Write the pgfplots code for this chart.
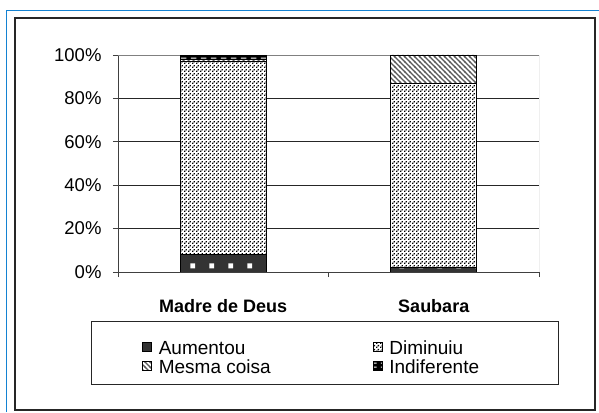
\documentclass[border=0pt]{standalone}
\usepackage{pgfplots}
\pgfplotsset{compat=1.18}
\usepackage{fontspec}
\setmainfont{Liberation Sans}
\usetikzlibrary{patterns}
\pgfdeclarepatternformonly{whitesq}{\pgfqpoint{0pt}{0pt}}{\pgfqpoint{19pt}{19pt}}{\pgfqpoint{19pt}{19pt}}{\pgfpathrectangle{\pgfqpoint{0.5pt}{11pt}}{\pgfqpoint{5pt}{5pt}}\pgfusepath{fill}}
\pgfdeclarepatternformonly{fdots}{\pgfqpoint{0pt}{0pt}}{\pgfqpoint{4pt}{4pt}}{\pgfqpoint{4pt}{4pt}}{\pgfpathrectangle{\pgfqpoint{0pt}{0pt}}{\pgfqpoint{1.6pt}{1.6pt}}\pgfpathrectangle{\pgfqpoint{2pt}{2pt}}{\pgfqpoint{1.6pt}{1.6pt}}\pgfusepath{fill}}
\pgfdeclarepatternformonly{nwl}{\pgfqpoint{-1pt}{-1pt}}{\pgfqpoint{6pt}{6pt}}{\pgfqpoint{5pt}{5pt}}{\pgfsetlinewidth{1.2pt}\pgfpathmoveto{\pgfqpoint{-1pt}{6pt}}\pgfpathlineto{\pgfqpoint{6pt}{-1pt}}\pgfusepath{stroke}}
\pgfdeclarepatternformonly{wdash}{\pgfqpoint{0pt}{0pt}}{\pgfqpoint{10pt}{4pt}}{\pgfqpoint{10pt}{4pt}}{\pgfpathrectangle{\pgfqpoint{1pt}{1.5pt}}{\pgfqpoint{6pt}{1.2pt}}\pgfusepath{fill}}
\definecolor{frameblue}{RGB}{20,130,210}
\begin{document}
\begin{tikzpicture}[x=1pt,y=1pt]
\useasboundingbox (0,0) rectangle (599,412);
\fill[white] (0,0) rectangle (599,412);
\draw[frameblue,line width=1.6pt] (6.5,0) -- (6.5,401.5) -- (599,401.5);
\draw[black!85,line width=1.3pt] (15,394) rectangle (595,2);
\begin{axis}[
  at={(118pt,140pt)}, anchor=south west,
  width=421pt, height=217pt, scale only axis,
  ybar stacked, bar width=86pt,
  xmin=-0.5, xmax=1.5, ymin=0, ymax=100,
  axis x line*=bottom, axis y line*=left,
  axis line style={black!75, line width=0.9pt},
  ytick={0,20,40,60,80,100},
  yticklabel={\pgfmathprintnumber{\tick}\%},
  yticklabel style={xshift=-8pt},
  ymajorgrids, major grid style={black!85, line width=0.8pt},
  tick align=outside, major tick length=5pt,
  tick style={black!75, line width=0.9pt},
  xtick={-0.5,0.5,1.5}, xticklabels={},
  extra x ticks={0,1}, extra x tick labels={Madre de Deus,Saubara},
  extra x tick style={major tick length=0pt, tick label style={font=\fontsize{18}{21}\selectfont\bfseries, yshift=-24pt}},
  tick label style={font=\fontsize{18.5}{21}\selectfont},
  /pgf/number format/assume math mode=true,
  legend columns=2,
  legend cell align=left,
  legend style={draw=none, fill=none, at={(0.057,-0.312)}, anchor=north west,
    inner sep=0pt, font=\fontsize{19}{21}\selectfont,
    nodes={inner ysep=0pt, inner xsep=0pt, text height=14.5pt, text depth=4.5pt},
    /tikz/every odd column/.append style={column sep=7pt},
    /tikz/every even column/.append style={column sep=102pt}},
  legend image code/.code={\draw[#1, line width=0.6pt] (0pt,-2pt) rectangle (9pt,7pt);},
]
\addplot[draw=black, line width=0.6pt, fill=black!80, postaction={pattern=whitesq, pattern color=white}] coordinates {(0,8) (1,2)};
\addplot[draw=black, line width=0.6pt, fill=white, postaction={pattern=fdots, pattern color=black}] coordinates {(0,89) (1,85)};
\addplot[draw=black, line width=0.6pt, fill=white, postaction={pattern=nwl, pattern color=black!65}] coordinates {(0,1) (1,13)};
\addplot[draw=black, line width=0.6pt, fill=black, postaction={pattern=wdash, pattern color=white}] coordinates {(0,2) (1,0)};
\draw[black!50, line width=0.9pt] (rel axis cs:0,1) -- (rel axis cs:1,1) -- (rel axis cs:1,0);
\legend{Aumentou,Diminuiu,Mesma coisa,Indiferente}
\end{axis}
\draw[black!85,line width=1pt] (91,90) rectangle (558,28);
\end{tikzpicture}
\end{document}
